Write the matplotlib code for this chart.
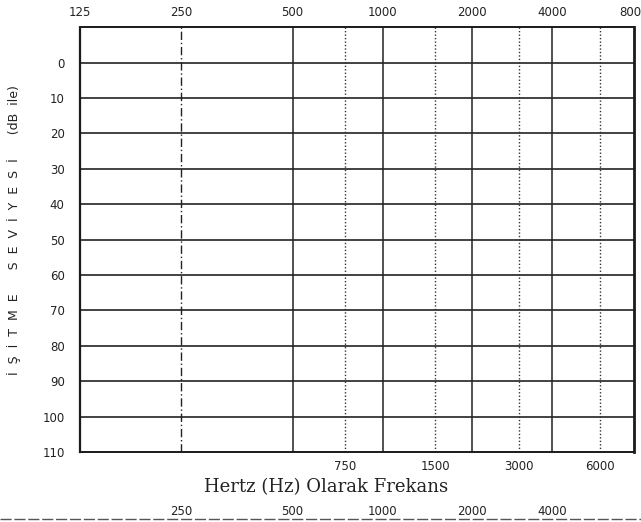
# Boş odyogram formu (taranmış sayfadan)
import numpy as np
import matplotlib.pyplot as plt
from matplotlib.scale import FuncScale

# Frekanslar (Hz) ve işitme seviyeleri (dB)
ana_frekanslar = [125, 250, 500, 1000, 2000, 4000, 8000]
ust_etiketler = ['125', '250', '500', '1000', '2000', '4000', '8000']
duz_frekanslar = [500, 1000, 2000, 4000]
kesikli_frekanslar = [250]
ara_frekanslar = [750, 1500, 3000, 6000]
ara_etiketler = ['750', '1500', '3000', '6000']
alt_frekanslar = [250, 500, 1000, 2000, 4000]
alt_etiketler = ['250', '500', '1000', '2000', '4000']
db_seviyeleri = [0, 10, 20, 30, 40, 50, 60, 70, 80, 90, 100, 110]
db_cizgileri = [0, 10, 20, 30, 40, 50, 60, 70, 80, 90, 100]

# taranmış formda oktavlar eşit aralıklı değil; her oktavın yerini ölçtüm
oktav_yeri = np.array([0, 0.182, 0.384, 0.547, 0.708, 0.852, 1.0])
oktav_no = np.arange(7)


def ileri(f):
    f = np.clip(np.asarray(f, dtype=float), 1e-6, None)
    return np.interp(np.log2(f / 125.0), oktav_no, oktav_yeri, left=-1, right=2)


def geri(x):
    return 125.0 * 2 ** np.interp(x, oktav_yeri, oktav_no)


fig = plt.figure(figsize=(6.41, 5.22), dpi=100)
ax = fig.add_axes([0.1248, 0.134, 0.864, 0.814])
ax.set_xscale(FuncScale(ax, (ileri, geri)))
ax.set_xlim(125, 8000)
ax.set_ylim(110, -10)

# yatay çizgiler
for d in db_cizgileri:
    ax.axhline(d, color='#222222', lw=1.2)

# dikey çizgiler
for f in duz_frekanslar:
    ax.axvline(f, color='#222222', lw=1.1)
for f in kesikli_frekanslar:
    ax.axvline(f, color='#222222', lw=1.0, linestyle=(0, (6, 2, 1, 2)))
for f in ara_frekanslar:
    ax.axvline(f, color='#333333', lw=1.0, linestyle=(0, (1, 1.5)))

# çerçeve
for k in ['top', 'bottom']:
    ax.spines[k].set_linewidth(1.4)
    ax.spines[k].set_linestyle((0, (5, 1)))
ax.spines['left'].set_linewidth(1.6)
ax.spines['left'].set_linestyle((0, (2, 1)))
ax.spines['right'].set_linewidth(2.0)
for s in ax.spines.values():
    s.set_color('#1a1a1a')

# üst frekans etiketleri
ax.xaxis.tick_top()
ax.set_xticks(ana_frekanslar)
ax.set_xticklabels(ust_etiketler, fontsize=8.5, color='#222222')
ax.xaxis.set_minor_locator(plt.NullLocator())
ax.tick_params(axis='x', length=0, pad=6)

# dB etiketleri
ax.set_yticks(db_seviyeleri)
ax.set_yticklabels([str(d) for d in db_seviyeleri], fontsize=8.5, color='#222222')
ax.tick_params(axis='y', length=0, pad=11)

# alttaki iki sıra frekans
xt = ax.get_xaxis_transform()
for f, t in zip(ara_frekanslar, ara_etiketler):
    ax.text(f, -0.033, t, transform=xt, ha='center', va='center', fontsize=8.5, color='#222222')
for f, t in zip(alt_frekanslar, alt_etiketler):
    ax.text(f, -0.141, t, transform=xt, ha='center', va='center', fontsize=8.5, color='#222222')

ax.text(0.445, -0.083, 'Hertz (Hz) Olarak Frekans', transform=ax.transAxes,
        ha='center', va='center', fontsize=13, family='DejaVu Serif', color='#222222')

fig.text(0.022, 0.56, 'İ  Ş  İ  T  M  E      S  E  V  İ  Y  E  S  İ      (dB  ile)', rotation=90,
         ha='center', va='center', fontsize=9, color='#222222')

# sayfanın altındaki kesik çizgi
fig.add_artist(plt.Line2D([0, 1], [0.006, 0.006], transform=fig.transFigure,
                          color='#555555', lw=1.0, linestyle=(0, (8, 2))))

fig.savefig('out.png', dpi=100)
